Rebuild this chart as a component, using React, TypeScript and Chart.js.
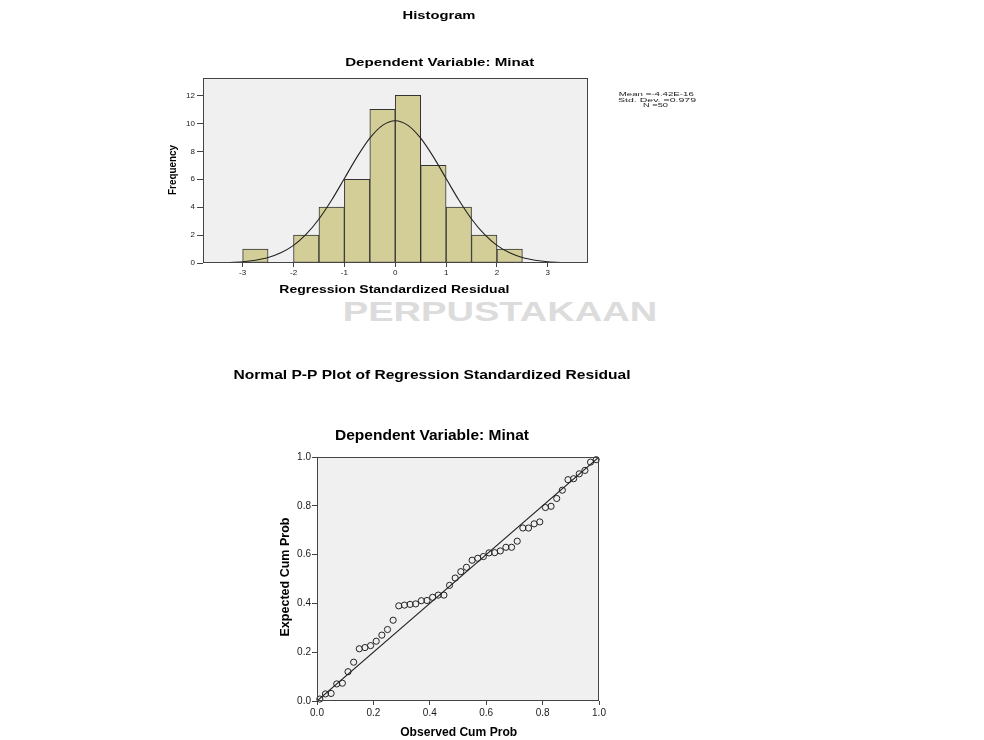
import React, { useEffect, useRef } from "react";
import { Chart, registerables } from "chart.js";

Chart.register(...registerables);

// ---------- Histogram data ----------
const BIN_CENTERS = [-2.75, -2.25, -1.75, -1.25, -0.75, -0.25, 0.25, 0.75, 1.25, 1.75, 2.25];
const BIN_COUNTS = [1, 0, 2, 4, 6, 11, 12, 7, 4, 2, 1];
const CURVE_X = [-3.75, -3.5, -3.25, -3, -2.75, -2.5, -2.25, -2, -1.75, -1.5, -1.25, -1, -0.75, -0.5, -0.25, 0,
  0.25, 0.5, 0.75, 1, 1.25, 1.5, 1.75, 2, 2.25, 2.5, 2.75, 3, 3.25, 3.5, 3.75];
const CURVE_Y = [0.01, 0.02, 0.04, 0.09, 0.2, 0.39, 0.73, 1.26, 2.06, 3.15, 4.51, 6.05, 7.6, 8.94, 9.86, 10.19,
  9.86, 8.94, 7.6, 6.05, 4.51, 3.15, 2.06, 1.26, 0.73, 0.39, 0.2, 0.09, 0.04, 0.02, 0.01];
const HIST_X_TICKS = [-3, -2, -1, 0, 1, 2, 3];
const HIST_Y_TICKS = [0, 2, 4, 6, 8, 10, 12];
const STATS_LINES = ["Mean =-4.42E-16", "Std. Dev. =0.979", "N =50"];

// ---------- P-P plot data ----------
const PP_OBSERVED = [0.01, 0.03, 0.05, 0.07, 0.09, 0.11, 0.13, 0.15, 0.17, 0.19, 0.21, 0.23, 0.25, 0.27, 0.29,
  0.31, 0.33, 0.35, 0.37, 0.39, 0.41, 0.43, 0.45, 0.47, 0.49, 0.51, 0.53, 0.55, 0.57, 0.59, 0.61, 0.63, 0.65,
  0.67, 0.69, 0.71, 0.73, 0.75, 0.77, 0.79, 0.81, 0.83, 0.85, 0.87, 0.89, 0.91, 0.93, 0.95, 0.97, 0.99];
const PP_EXPECTED = [0.008, 0.029, 0.031, 0.07, 0.073, 0.12, 0.159, 0.214, 0.219, 0.227, 0.245, 0.27, 0.293,
  0.331, 0.39, 0.393, 0.396, 0.398, 0.411, 0.412, 0.425, 0.434, 0.434, 0.474, 0.504, 0.53, 0.548, 0.577, 0.585,
  0.592, 0.607, 0.608, 0.615, 0.63, 0.63, 0.655, 0.709, 0.709, 0.726, 0.734, 0.793, 0.798, 0.83, 0.864, 0.907,
  0.911, 0.931, 0.945, 0.979, 0.989];
const DIAG_X = [0, 1];
const DIAG_Y = [0, 1];
const PP_TICKS = [0, 0.2, 0.4, 0.6, 0.8, 1.0];

const FONT = '"Liberation Sans", Arial, Helvetica, sans-serif';

type TextItem = {
  text: string; x: number; y: number; size: number; bold?: boolean;
  width?: number; rotate?: number; color?: string;
};

function drawText(ctx: CanvasRenderingContext2D, t: TextItem) {
  ctx.save();
  ctx.font = `${t.bold ? "bold " : ""}${t.size}px ${FONT}`;
  ctx.fillStyle = t.color || "#000";
  ctx.textAlign = "center";
  ctx.textBaseline = "alphabetic";
  const w0 = ctx.measureText(t.text).width;
  const sx = t.width ? t.width / w0 : 1;
  ctx.translate(t.x, t.y);
  if (t.rotate) ctx.rotate(t.rotate);
  ctx.scale(sx, 1);
  ctx.fillText(t.text, 0, 0);
  ctx.restore();
}

const textPlugin = {
  id: "texts",
  afterDraw(chart: any, _a: any, opts: any) {
    const items: TextItem[] = (opts && opts.items) || [];
    for (const t of items) drawText(chart.ctx, t);
  },
};

const framePlugin = {
  id: "frame",
  beforeDraw(chart: any) {
    const { ctx, chartArea: a } = chart;
    ctx.save();
    ctx.fillStyle = "#f0f0f0";
    ctx.fillRect(a.left, a.top, a.right - a.left, a.bottom - a.top);
    ctx.restore();
  },
  afterDatasetsDraw(chart: any) {
    const { ctx, chartArea: a } = chart;
    ctx.save();
    ctx.strokeStyle = "#444";
    ctx.lineWidth = 1;
    ctx.strokeRect(Math.round(a.left) + 0.5, Math.round(a.top) + 0.5,
      Math.round(a.right - a.left) - 1, Math.round(a.bottom - a.top) - 1);
    ctx.restore();
  },
};

function axis(min: number, max: number, ticks: number[], opts: any) {
  return {
    type: "linear",
    min,
    max,
    offset: false,
    afterBuildTicks: (s: any) => { s.ticks = ticks.map((v) => ({ value: v })); },
    afterFit: opts.fit,
    grid: {
      display: true, drawOnChartArea: false, drawTicks: true, tickLength: opts.tickLength,
      color: "#444", offset: false,
    },
    border: { display: false },
    ticks: {
      autoSkip: false, maxRotation: 0, padding: opts.padding, color: "#1a1a1a",
      font: { size: opts.fontSize, family: FONT },
      callback: opts.format,
    },
  };
}

export default function App() {
  const histRef = useRef<HTMLCanvasElement>(null);
  const ppRef = useRef<HTMLCanvasElement>(null);

  useEffect(() => {
    Chart.defaults.font.family = FONT;
    const hist = new Chart(histRef.current as HTMLCanvasElement, {
      type: "bar",
      data: {
        datasets: [
          {
            type: "bar",
            order: 1,
            data: BIN_CENTERS.map((c, i) => ({ x: c, y: BIN_COUNTS[i] })),
            backgroundColor: "#d3ce97",
            borderColor: "#333",
            borderWidth: 1,
            borderSkipped: false,
            barPercentage: 1,
            categoryPercentage: 1,
          } as any,
          {
            type: "line",
            order: 0,
            data: CURVE_X.map((x, i) => ({ x, y: CURVE_Y[i] })),
            borderColor: "#222",
            borderWidth: 1.1,
            pointRadius: 0,
            fill: false,
            cubicInterpolationMode: "monotone",
          } as any,
        ],
      },
      options: {
        animation: false,
        responsive: false,
        devicePixelRatio: 1,
        layout: { padding: { left: 163, right: 396, top: 78, bottom: 37 } },
        plugins: {
          legend: { display: false },
          tooltip: { enabled: false },
          texts: {
            items: [
              { text: "Histogram", x: 439, y: 19, size: 10, bold: true, width: 73 },
              { text: "Dependent Variable: Minat", x: 439.7, y: 65.7, size: 11.5, bold: true, width: 189 },
              { text: "Regression Standardized Residual", x: 394.3, y: 293, size: 11.5, bold: true, width: 230 },
              { text: "Frequency", x: 176, y: 170, size: 10, bold: true, width: 50, rotate: -Math.PI / 2 },
              { text: STATS_LINES[0], x: 656.3, y: 96, size: 5.8, width: 75, color: "#222" },
              { text: STATS_LINES[1], x: 657, y: 101.5, size: 5.8, width: 78, color: "#222" },
              { text: STATS_LINES[2], x: 655.5, y: 107, size: 5.8, width: 25, color: "#222" },
            ],
          },
        } as any,
        scales: {
          x: axis(-3.78, 3.79, HIST_X_TICKS, {
            fit: (s: any) => { s.height = 30; }, tickLength: 4, padding: 1, fontSize: 8,
            format: (v: any) => String(v),
          }),
          y: axis(0, 13.25, HIST_Y_TICKS, {
            fit: (s: any) => { s.width = 40; }, tickLength: 6, padding: 2, fontSize: 8,
            format: (v: any) => String(v),
          }),
        } as any,
      },
      plugins: [framePlugin, textPlugin],
    });

    const pp = new Chart(ppRef.current as HTMLCanvasElement, {
      type: "scatter",
      data: {
        datasets: [
          {
            type: "line",
            data: DIAG_X.map((x, i) => ({ x, y: DIAG_Y[i] })),
            borderColor: "#222",
            borderWidth: 1.1,
            pointRadius: 0,
            showLine: true,
            fill: false,
          } as any,
          {
            type: "scatter",
            data: PP_OBSERVED.map((x, i) => ({ x, y: PP_EXPECTED[i] })),
            pointRadius: 3.1,
            pointBorderWidth: 1,
            pointBorderColor: "#222",
            pointBackgroundColor: "rgba(0,0,0,0)",
            showLine: false,
            clip: false,
          } as any,
        ],
      },
      options: {
        animation: false,
        responsive: false,
        devicePixelRatio: 1,
        layout: { padding: { left: 277, right: 385, top: 127, bottom: 9 } },
        plugins: {
          legend: { display: false },
          tooltip: { enabled: false },
          texts: {
            items: [
              { text: "Normal P-P Plot of Regression Standardized Residual", x: 432, y: 49.3, size: 13.5, bold: true, width: 397 },
              { text: "Dependent Variable: Minat", x: 432, y: 110, size: 14.5, bold: true, width: 194 },
              { text: "Observed Cum Prob", x: 458.7, y: 406, size: 13, bold: true, width: 117 },
              { text: "Expected Cum Prob", x: 288.5, y: 247, size: 13, bold: true, width: 119, rotate: -Math.PI / 2 },
            ],
          },
        } as any,
        scales: {
          x: axis(0, 1, PP_TICKS, {
            fit: (s: any) => { s.height = 30; }, tickLength: 4, padding: 2, fontSize: 10,
            format: (v: any) => Number(v).toFixed(1),
          }),
          y: axis(0, 1, PP_TICKS, {
            fit: (s: any) => { s.width = 40; }, tickLength: 5, padding: 1, fontSize: 10,
            format: (v: any) => Number(v).toFixed(1),
          }),
        } as any,
      },
      plugins: [framePlugin, textPlugin],
    });

    return () => {
      hist.destroy();
      pp.destroy();
    };
  }, []);

  return (
    <div style={{ position: "absolute", left: 0, top: 0, width: 984, height: 740, background: "#fff", overflow: "hidden" }}>
      <div
        style={{
          position: "absolute", left: 0, top: 298, width: 1000, textAlign: "center",
          font: `bold 28px ${FONT}`, lineHeight: "28px", color: "#dcdcdc",
          transform: "scaleX(1.36)", transformOrigin: "500px 0",
        }}
      >
        PERPUSTAKAAN
      </div>
      <canvas ref={histRef} width={984} height={330} style={{ position: "absolute", left: 0, top: 0 }} />
      <canvas ref={ppRef} width={984} height={410} style={{ position: "absolute", left: 0, top: 330 }} />
    </div>
  );
}
